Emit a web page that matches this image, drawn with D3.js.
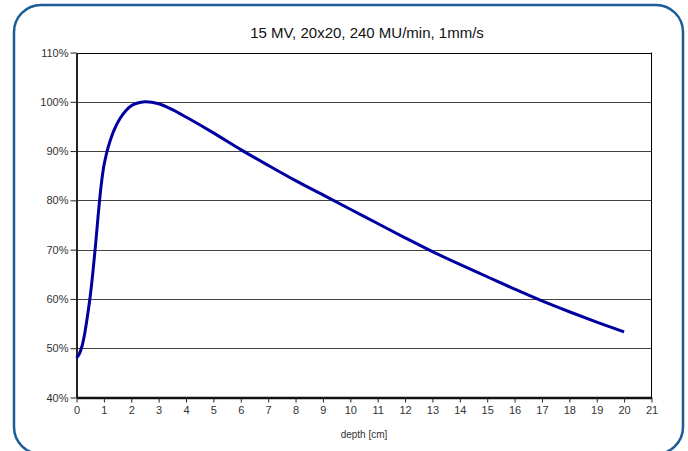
<!DOCTYPE html>
<html>
<head>
<meta charset="utf-8">
<script src="https://cdn.jsdelivr.net/npm/d3@7"></script>
<style>
  body { margin: 0; background: #fff; }
  text { font-family: "Liberation Sans", Arial, sans-serif; }
</style>
</head>
<body>
<script>
const title = "15 MV, 20x20, 240 MU/min, 1mm/s";
const xLabel = "depth [cm]";
const depth = [0, 0.1, 0.2, 0.3, 0.4, 0.5, 0.6, 0.7, 0.8, 0.9, 1.0, 1.1, 1.2, 1.4, 1.6, 1.8, 2.0, 2.2, 2.5, 3.0, 3.5, 4.0, 5, 6, 7, 8, 9, 10, 11, 12, 13, 14, 15, 16, 17, 18, 19, 20];
const dose = [48, 48.8, 50.4, 53, 56.5, 60.5, 65.5, 71.2, 77.5, 83, 87, 89.6, 91.6, 94.6, 96.7, 98.2, 99.2, 99.7, 100, 99.6, 98.4, 96.9, 93.7, 90.3, 87.1, 84.0, 81.1, 78.2, 75.3, 72.4, 69.6, 67.0, 64.5, 62.0, 59.6, 57.4, 55.3, 53.3];
const xTicks = d3.range(0, 22);
const yTicks = [40, 50, 60, 70, 80, 90, 100, 110];

const W = 688, H = 451;
const svg = d3.select("body").append("svg").attr("width", W).attr("height", H);

// rounded frame, bottom edge falls just outside the window
svg.append("rect")
  .attr("x", 14).attr("y", 5).attr("width", 669).attr("height", 449)
  .attr("rx", 27).attr("ry", 27)
  .attr("fill", "none").attr("stroke", "#1b5c99").attr("stroke-width", 2.5);

svg.append("text")
  .attr("x", 367).attr("y", 38)
  .attr("text-anchor", "middle")
  .attr("font-size", 15).attr("fill", "#111")
  .text(title);

const x = d3.scaleLinear().domain([0, 21]).range([76.5, 651.5]);
const y = d3.scaleLinear().domain([40, 110]).range([397.5, 52.5]);

// gridlines
svg.append("g").selectAll("line")
  .data(yTicks.slice(1))
  .enter().append("line")
  .attr("x1", x(0)).attr("x2", x(21))
  .attr("y1", d => Math.round(y(d)) + 0.5).attr("y2", d => Math.round(y(d)) + 0.5)
  .attr("stroke", d => d === 110 ? "#000" : "#444").attr("stroke-width", 1);

// right border
svg.append("line")
  .attr("x1", x(21)).attr("x2", x(21)).attr("y1", y(110)).attr("y2", y(40))
  .attr("stroke", "#000").attr("stroke-width", 1);

// y axis
const yAxis = svg.append("g")
  .attr("transform", `translate(${x(0)},0)`)
  .call(d3.axisLeft(y).tickValues(yTicks).tickFormat(d => d + "%").tickSize(6).tickSizeOuter(0));
yAxis.select(".domain").attr("stroke", "#222").attr("stroke-width", 2);
yAxis.selectAll(".tick line").attr("stroke", "#222");
yAxis.selectAll(".tick text").attr("font-size", 11).attr("fill", "#333")
  .attr("font-family", "Liberation Sans, Arial, sans-serif").attr("x", -8);

// x axis
const xAxis = svg.append("g")
  .attr("transform", `translate(0,${y(40)})`)
  .call(d3.axisBottom(x).tickValues(xTicks).tickFormat(d3.format("d")).tickSize(5).tickSizeOuter(0));
xAxis.select(".domain").attr("stroke", "#111").attr("stroke-width", 2.5);
xAxis.selectAll(".tick line").attr("stroke", "#222");
xAxis.selectAll(".tick text").attr("font-size", 11).attr("fill", "#333")
  .attr("font-family", "Liberation Sans, Arial, sans-serif").attr("y", 9);

svg.append("text")
  .attr("x", 364).attr("y", 438)
  .attr("text-anchor", "middle")
  .attr("font-size", 10).attr("fill", "#333")
  .text(xLabel);

// dose curve
const pts = depth.map((d, i) => [d, dose[i]]);
const line = d3.line().x(d => x(d[0])).y(d => y(d[1])).curve(d3.curveCatmullRom.alpha(0.5));
svg.append("path")
  .datum(pts)
  .attr("d", line)
  .attr("fill", "none")
  .attr("stroke", "#0000a0")
  .attr("stroke-width", 3)
  .attr("stroke-linecap", "butt");
</script>
</body>
</html>
